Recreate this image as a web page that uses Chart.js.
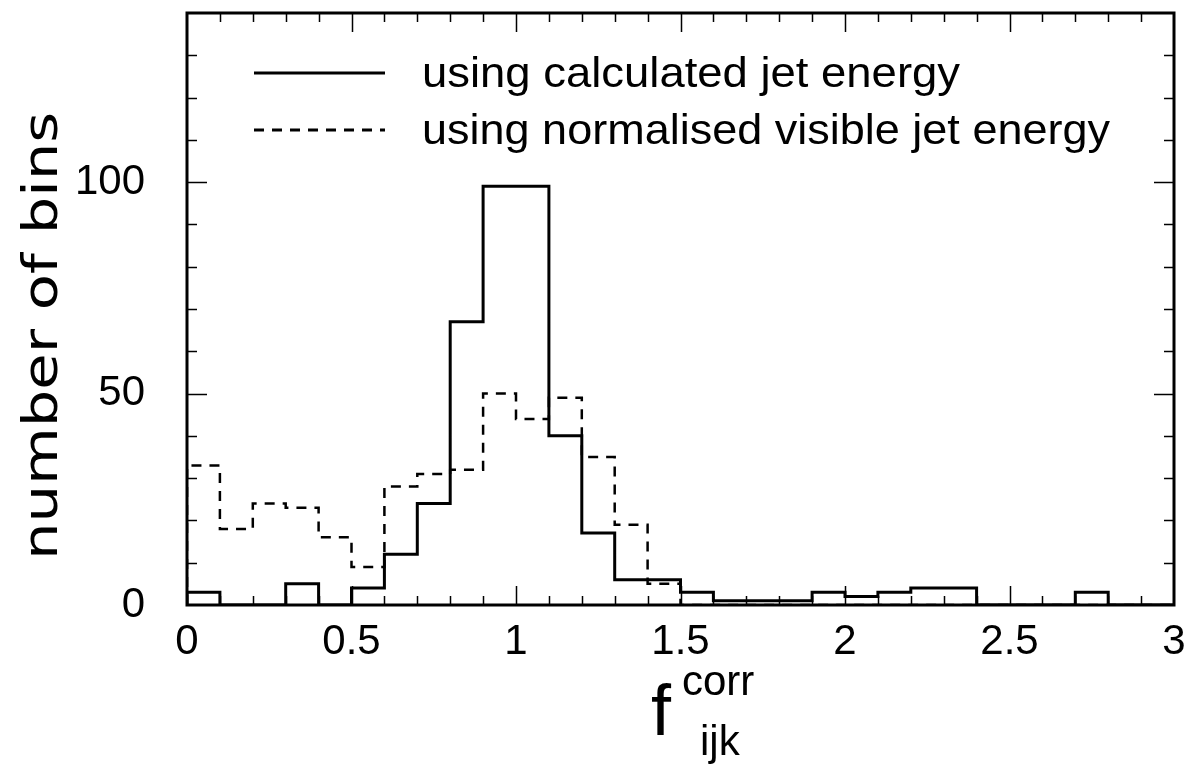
<!DOCTYPE html>
<html>
<head>
<meta charset="utf-8">
<script src="https://cdn.jsdelivr.net/npm/chart.js@4.4.1/dist/chart.umd.min.js"></script>
<style>
  html, body { margin: 0; padding: 0; background: #fff; }
  #wrap { width: 1198px; height: 768px; }
</style>
</head>
<body>
<div id="wrap"><canvas id="histChart" width="1198" height="768"></canvas></div>
<script>
// bin lower edges (width 0.1)
var binLow = [0, 0.1, 0.2, 0.3, 0.4, 0.5, 0.6, 0.7, 0.8, 0.9,
              1.0, 1.1, 1.2, 1.3, 1.4, 1.5, 1.6, 1.7, 1.8, 1.9,
              2.0, 2.1, 2.2, 2.3, 2.4, 2.5, 2.6, 2.7, 2.8, 2.9];
var binWidth = 0.1;

// using calculated jet energy (solid)
var calcCounts = [3, 0, 0, 5, 0, 4, 12, 24, 67, 99,
                  99, 40, 17, 6, 6, 3, 1, 1, 1, 3,
                  2, 3, 4, 4, 0, 0, 0, 3, 0, 0];
// using normalised visible jet energy (dashed)
var normCounts = [33, 18, 24, 23, 16, 9, 28, 31, 32, 50,
                  44, 49, 35, 19, 5, 0, 0, 0, 0, 0,
                  0, 0, 0, 0, 0, 0, 0, 0, 0, 0];

var xTickValues = [0, 0.5, 1, 1.5, 2, 2.5, 3];
var yTickValues = [0, 50, 100];
var xMinorStep = 0.1;
var yMinorStep = 10;

var labelFont = "'Liberation Sans', Arial, sans-serif";

// turn bin counts into step points at bin edges
function stepPoints(counts) {
  var pts = [{ x: binLow[0], y: 0 }];
  for (var i = 0; i < counts.length; i++) {
    pts.push({ x: binLow[i], y: counts[i] });
  }
  var last = binLow.length - 1;
  pts.push({ x: binLow[last] + binWidth, y: counts[last] });
  return pts;
}

// draw text squeezed/stretched to a target width
function fitText(ctx, text, x, y, width) {
  var w = ctx.measureText(text).width;
  ctx.save();
  ctx.translate(x, y);
  ctx.scale(width / w, 1);
  ctx.fillText(text, 0, 0);
  ctx.restore();
}

// keep tick label overhang from eating into the plot area
function noPadding(scale) {
  scale.paddingTop = 0;
  scale.paddingBottom = 0;
  scale.paddingLeft = 0;
  scale.paddingRight = 0;
}

var framePlugin = {
  id: "frame",
  afterDraw: function (chart) {
    var ctx = chart.ctx;
    var area = chart.chartArea;
    var xs = chart.scales.x;
    var ys = chart.scales.y;

    ctx.save();
    ctx.strokeStyle = "#000";
    ctx.fillStyle = "#000";
    ctx.lineCap = "butt";

    // inward ticks on all four sides
    ctx.lineWidth = 1.5;
    ctx.beginPath();
    var nx = Math.round((xs.max - xs.min) / xMinorStep);
    for (var i = 1; i < nx; i++) {
      var v = xs.min + i * xMinorStep;
      var px = Math.round(xs.getPixelForValue(v)) + 0.5;
      var major = Math.abs(v * 2 - Math.round(v * 2)) < 1e-6;
      var len = major ? 19 : 9;
      ctx.moveTo(px, area.bottom);
      ctx.lineTo(px, area.bottom - len);
      ctx.moveTo(px, area.top);
      ctx.lineTo(px, area.top + len);
    }
    var ny = Math.round((ys.max - ys.min) / yMinorStep);
    for (var j = 1; j < ny; j++) {
      var vy = ys.min + j * yMinorStep;
      var py = Math.round(ys.getPixelForValue(vy)) + 0.5;
      var lenY = vy % 50 === 0 ? 20 : 10;
      ctx.moveTo(area.left, py);
      ctx.lineTo(area.left + lenY, py);
      ctx.moveTo(area.right, py);
      ctx.lineTo(area.right - lenY, py);
    }
    ctx.stroke();

    // frame
    ctx.lineWidth = 3;
    ctx.strokeRect(area.left, area.top, area.right - area.left, area.bottom - area.top);

    // legend inside the plot
    var rows = [
      { ds: chart.data.datasets[0], y: 73, textW: 538 },
      { ds: chart.data.datasets[1], y: 130, textW: 688 }
    ];
    ctx.font = "42px " + labelFont;
    ctx.textBaseline = "alphabetic";
    ctx.textAlign = "left";
    rows.forEach(function (r) {
      ctx.lineWidth = 3;
      ctx.setLineDash(r.ds.borderDash || []);
      ctx.beginPath();
      ctx.moveTo(254, r.y);
      ctx.lineTo(385, r.y);
      ctx.stroke();
      ctx.setLineDash([]);
      fitText(ctx, r.ds.label, 422, r.y + 14, r.textW);
    });

    // y axis title
    ctx.save();
    ctx.translate(57, 336);
    ctx.rotate(-Math.PI / 2);
    ctx.font = "48px 'DejaVu Sans', sans-serif";
    ctx.textAlign = "left";
    var yt = "number of bins";
    var ytw = ctx.measureText(yt).width;
    ctx.scale(448 / ytw, 1);
    ctx.fillText(yt, -ytw / 2, 0);
    ctx.restore();

    // x axis title: f with superscript corr and subscript ijk
    ctx.textAlign = "left";
    ctx.font = "72px " + labelFont;
    ctx.fillText("f", 651, 735);
    ctx.font = "42px " + labelFont;
    ctx.fillText("corr", 682, 695);
    ctx.fillText("ijk", 700, 755);

    ctx.restore();
  }
};

new Chart(document.getElementById("histChart"), {
  type: "line",
  data: {
    datasets: [
      {
        label: "using calculated jet energy",
        data: stepPoints(calcCounts),
        stepped: "before",
        borderColor: "#000",
        borderWidth: 3,
        pointRadius: 0,
        fill: false
      },
      {
        label: "using normalised visible jet energy",
        data: stepPoints(normCounts),
        stepped: "before",
        borderColor: "#000",
        borderWidth: 2.5,
        borderDash: [10, 8],
        pointRadius: 0,
        fill: false
      }
    ]
  },
  options: {
    responsive: false,
    animation: false,
    layout: { padding: { top: 13, right: 24, left: 0, bottom: 0 } },
    plugins: {
      legend: { display: false },
      tooltip: { enabled: false }
    },
    scales: {
      x: {
        type: "linear",
        min: 0,
        max: 3,
        grid: { display: false, drawTicks: false },
        border: { display: false },
        afterBuildTicks: function (scale) {
          scale.ticks = xTickValues.map(function (v) { return { value: v }; });
        },
        afterFit: function (scale) { scale.height = 163; noPadding(scale); },
        ticks: {
          color: "#000",
          padding: 12,
          maxRotation: 0,
          font: { family: labelFont, size: 42 },
          callback: function (value) { return String(value); }
        }
      },
      y: {
        min: 0,
        max: 140,
        grid: { display: false, drawTicks: false },
        border: { display: false },
        afterBuildTicks: function (scale) {
          scale.ticks = yTickValues.map(function (v) { return { value: v }; });
        },
        afterFit: function (scale) { scale.width = 187; noPadding(scale); },
        ticks: {
          color: "#000",
          padding: 42,
          font: { family: labelFont, size: 42 },
          callback: function (value) { return String(value); }
        }
      }
    }
  },
  plugins: [framePlugin]
});
</script>
</body>
</html>
